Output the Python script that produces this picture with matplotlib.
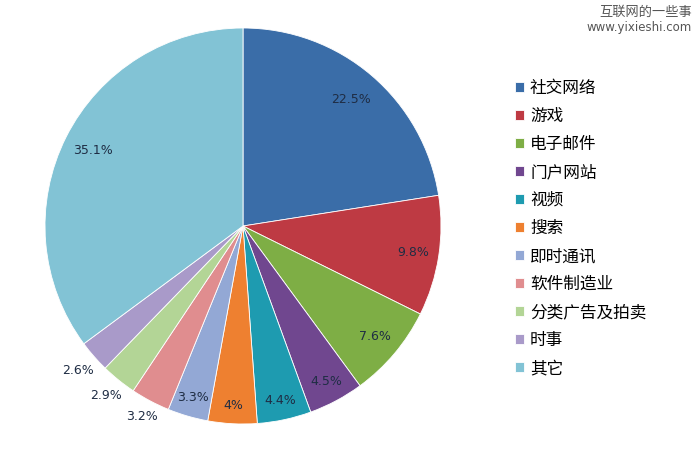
import numpy as np
import matplotlib
matplotlib.use("Agg")
from matplotlib import pyplot as plt

plt.rcParams["font.family"] = ["Noto Sans CJK SC", "DejaVu Sans"]

categories = ["社交网络", "游戏", "电子邮件", "门户网站", "视频", "搜索",
              "即时通讯", "软件制造业", "分类广告及拍卖", "时事", "其它"]
shares = [22.5, 9.8, 7.6, 4.5, 4.4, 4, 3.3, 3.2, 2.9, 2.6, 35.1]
pct_labels = ["22.5%", "9.8%", "7.6%", "4.5%", "4.4%", "4%",
              "3.3%", "3.2%", "2.9%", "2.6%", "35.1%"]
colors = ["#3A6DA8", "#BE3A43", "#7EAE45", "#70478F", "#1E9BB0", "#EE8030",
          "#93A8D5", "#E08D8F", "#B3D596", "#A99AC9", "#82C3D5"]
# radial position of each percentage label (fraction of radius)
label_r = [0.84, 0.87, 0.87, 0.89, 0.9, 0.91, 0.9, 1.09, 1.10, 1.11, 0.85]


def main():
    fig = plt.figure(figsize=(6.98, 4.53), dpi=100)
    cx, cy, rad = 243, 226, 198
    ax = fig.add_axes([(cx - rad) / 698, (453 - cy - rad) / 453,
                       2 * rad / 698, 2 * rad / 453])

    wedges, _ = ax.pie(shares, colors=colors, startangle=90, counterclock=False,
                       wedgeprops=dict(edgecolor="white", linewidth=0.6))
    ax.set_xlim(-1, 1)
    ax.set_ylim(-1, 1)
    ax.set_aspect("equal")
    ax.axis("off")

    for w, lab, r in zip(wedges, pct_labels, label_r):
        ang = np.deg2rad((w.theta1 + w.theta2) / 2)
        ax.text(r * np.cos(ang), r * np.sin(ang), lab, ha="center", va="center",
                fontsize=9, color="#1F2D44", family="DejaVu Sans")

    ax.legend(wedges, categories, loc="upper left",
              bbox_to_anchor=(500 / 698, 1 - 65 / 453), bbox_transform=fig.transFigure,
              frameon=False, fontsize=12, handlelength=0.55, handleheight=0.55,
              handletextpad=0.35, labelspacing=0.66)

    fig.text(692 / 698, 1 - 12 / 453, "互联网的一些事", ha="right", va="center",
             fontsize=9.5, color="#555555")
    fig.text(692 / 698, 1 - 28 / 453, "www.yixieshi.com", ha="right", va="center",
             fontsize=8.5, color="#555555", family="DejaVu Sans")

    fig.savefig("out.png", dpi=100)


if __name__ == "__main__":
    main()
